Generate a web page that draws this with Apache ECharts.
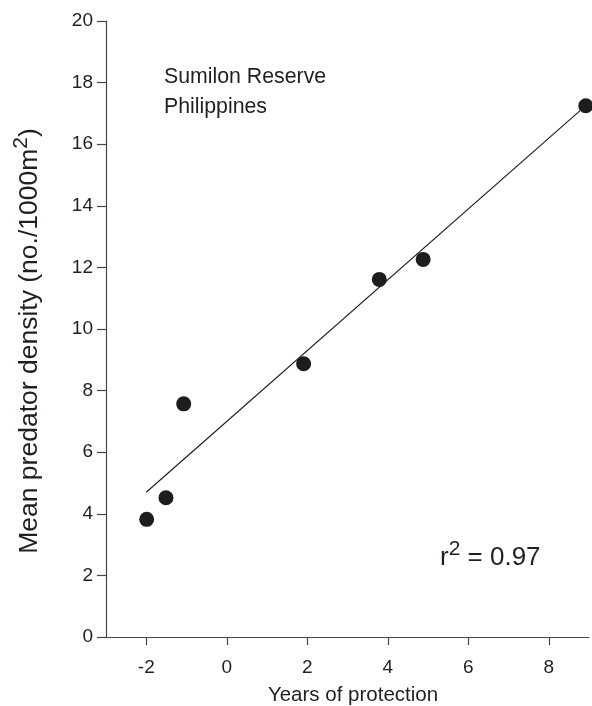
<!DOCTYPE html>
<html>
<head>
<meta charset="utf-8">
<script src="https://cdn.jsdelivr.net/npm/echarts@6/dist/echarts.min.js"></script>
<style>
html,body{margin:0;padding:0;background:#fff;}
#chart{width:592px;height:706px;}
</style>
</head>
<body>
<div id="chart"></div>
<script>
// Data
var yearsOfProtection = [-1.99, -1.51, -1.07, 1.91, 3.79, 4.88, 8.92];
var predatorDensity   = [3.82, 4.52, 7.57, 8.87, 11.61, 12.26, 17.25];
var fitX = [-2.0, 8.92];
var fitY = [4.70, 17.25];
var xTickValues = [-2, 0, 2, 4, 6, 8];
var yTickValues = [0, 2, 4, 6, 8, 10, 12, 14, 16, 18, 20];
var siteLines = ['Sumilon Reserve', 'Philippines'];
var rSquared = '0.97';

var FONT = '"Liberation Sans", Arial, Helvetica, sans-serif';
var TXT = '#231f20';
var AX = '#454545';

var points = yearsOfProtection.map(function (x, i) { return [x, predatorDensity[i]]; });
var fit = fitX.map(function (x, i) { return [x, fitY[i]]; });

var chart = echarts.init(document.getElementById('chart'), null, { renderer: 'canvas' });
chart.setOption({
  animation: false,
  backgroundColor: '#ffffff',
  grid: { left: 106, right: 3, top: 21, bottom: 69, containLabel: false, outerBoundsMode: 'none' },
  xAxis: {
    type: 'value', min: -3, max: 9,
    name: 'Years of protection',
    nameLocation: 'middle', nameGap: 48,
    nameTextStyle: { fontFamily: FONT, fontSize: 20.5, color: TXT, padding: [0, 0, 0, 11] },
    axisLine: { show: true, onZero: false, lineStyle: { color: AX, width: 1.2 } },
    axisTick: { show: true, inside: false, length: 8, customValues: xTickValues, lineStyle: { color: AX, width: 1.2 } },
    axisLabel: { customValues: xTickValues, margin: 21, fontFamily: FONT, fontSize: 19, color: TXT },
    splitLine: { show: false }
  },
  yAxis: {
    type: 'value', min: 0, max: 20, interval: 2,
    axisLine: { show: true, onZero: false, lineStyle: { color: AX, width: 1.2 } },
    axisTick: { show: true, inside: false, length: 9, lineStyle: { color: AX, width: 1.2 } },
    axisLabel: { margin: 13, fontFamily: FONT, fontSize: 19, color: TXT },
    splitLine: { show: false }
  },
  series: [
    {
      type: 'line', data: fit, showSymbol: false, symbol: 'none',
      lineStyle: { color: '#1a1a1a', width: 1.1 }, z: 2, silent: true
    },
    {
      type: 'scatter', data: points, symbol: 'circle', symbolSize: 15,
      itemStyle: { color: '#1e1c1d', opacity: 1 }, z: 3, clip: false
    }
  ],
  graphic: [
    {
      type: 'text', left: 164, top: 62,
      style: {
        text: siteLines.join('\n'), fontFamily: FONT, fontSize: 21.3, lineHeight: 30, fill: TXT
      }
    },
    {
      type: 'text', x: 27, y: 341, rotation: Math.PI / 2,
      style: {
        text: '{a|Mean predator density (no./1000m}{s|2}{a|)}',
        align: 'center', verticalAlign: 'middle',
        rich: {
          a: { fontFamily: FONT, fontSize: 26.5, fill: TXT, lineHeight: 32, verticalAlign: 'bottom' },
          s: { fontFamily: FONT, fontSize: 21, fill: TXT, lineHeight: 32, verticalAlign: 'top', padding: [0, 0, 10, 0] }
        }
      }
    },
    {
      type: 'text', left: 440, top: 539,
      style: {
        text: '{a|r}{s|2}{a| = ' + rSquared + '}',
        rich: {
          a: { fontFamily: FONT, fontSize: 26, fill: TXT, lineHeight: 32, verticalAlign: 'bottom' },
          s: { fontFamily: FONT, fontSize: 21, fill: TXT, lineHeight: 32, verticalAlign: 'top', padding: [0, 0, 10, 0] }
        }
      }
    }
  ]
});
</script>
</body>
</html>
